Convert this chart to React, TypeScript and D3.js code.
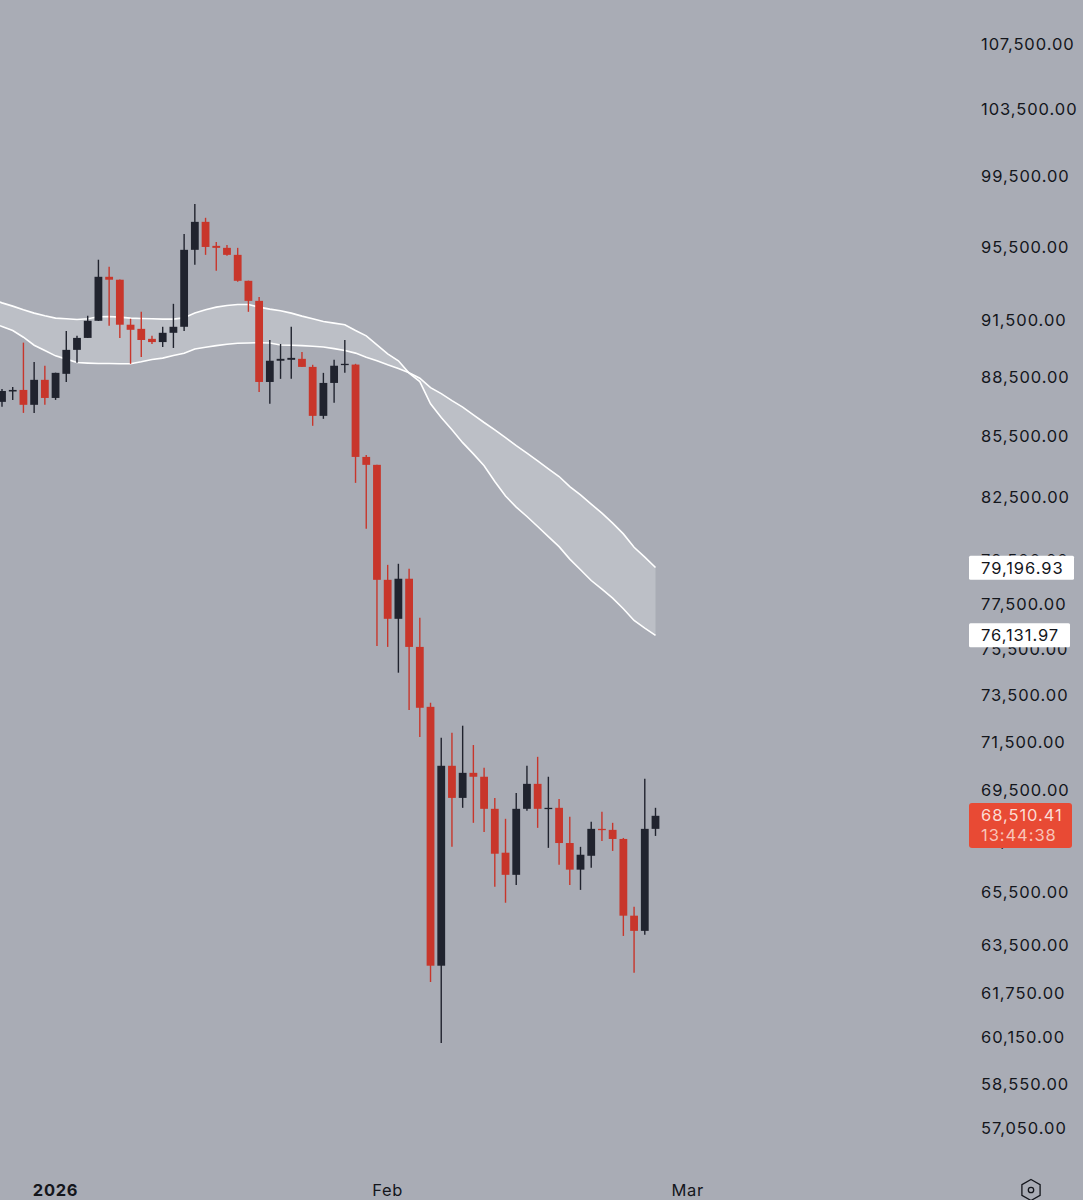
import React from "react";
import * as d3 from "d3";

const startDate = "2025-12-27";
const opens = [87160,87690,87770,87010,88290,87360,88600,89850,90480,91390,93770,93610,91180,90960,90430,90260,90750,91070,95260,96830,95480,95370,94980,93550,92460,88180,89280,89330,89380,88960,86450,88130,89070,89080,84400,84010,78550,76780,78600,75530,72930,62690,70460,69150,70170,70010,68710,66970,66110,68710,69720,68710,68750,67350,66310,66850,67910,67870,67510,64550,63980,67910];
const highs = [87820,87920,90230,89220,89020,88660,90850,90590,91660,94710,94320,93620,91500,91870,90590,91070,92300,96150,97850,97060,95700,95530,95370,93560,92670,90370,90160,91070,89740,89070,88650,89330,90370,89120,84500,84020,79240,79290,79060,76830,73100,71620,71830,72130,71320,70380,69150,68310,69350,70460,70830,70010,69110,68390,67200,68190,68590,68150,67550,64890,69930,68750];
const lows = [86907,87260,86600,86600,87010,87260,88180,89170,90470,91380,91120,90480,89120,89480,90160,90000,89950,90850,94430,94980,94100,94930,93500,91870,87670,87060,88340,88340,88960,85950,86300,87110,88650,83130,80930,75570,75530,74400,72800,71660,62100,59920,67200,68750,68150,67790,65650,65040,65720,68630,67950,67160,66500,65720,65530,66380,67430,67040,63790,62430,63830,67630];
const closes = [87716,87770,87010,88290,87360,88650,89850,90480,91390,93770,93610,91180,90910,90370,90260,90750,91070,95260,96830,95420,95370,94980,93550,92460,88180,89280,89380,89430,88960,86450,88130,89020,89120,84400,84010,78550,76780,78600,75530,72890,62690,70460,69150,70170,70010,68710,66930,66110,68710,69720,68710,68750,67350,66310,66890,67910,67870,67510,64550,63980,67910,68430];
// Band values start one day before the first visible candle (Dec 26).
const bandA = [92560,92352,92176,91977,91801,91657,91534,91496,91459,91496,91603,91619,91587,91534,91512,91496,91480,91480,91550,91801,91977,92122,92208,92261,92261,92122,92015,91924,91801,91640,91496,91351,91266,91175,90870,90587,90108,89640,89276,88636,88200,87058,86367,85748,85106,84552,83964,83195,82497,81959,81511,81036,80560,80089,79507,79013,78519,78120,77711,77231,76706,76364,76040];
const bandB = [91300,91084,90870,90517,90092,89812,89536,89364,89188,89156,89136,89136,89120,89120,89224,89344,89416,89552,89676,89900,89988,90072,90144,90196,90212,90228,90212,90108,90092,90072,90040,90004,89916,89812,89680,89468,89276,89068,88876,88652,88376,87888,87579,87225,86892,86503,86114,85748,85359,84959,84586,84209,83817,83440,82949,82545,82102,81674,81198,80688,80061,79599,79120];
const priceTicks = [107500,103500,99500,95500,91500,88500,85500,82500,79500,77500,75500,73500,71500,69500,67500,65500,63500,61750,60150,58550,57050];
const timeTicks = [
  { date: "2026-01-01", label: "2026", bold: true },
  { date: "2026-02-01", label: "Feb", bold: false },
  { date: "2026-03-01", label: "Mar", bold: false },
];
const tags = [
  { value: 79196.93, width: 105 },
  { value: 76131.97, width: 101 },
];
const lastPrice = 68510.41;
const countdown = "13:44:38";

const BG = "#a9acb5";
const RED = "#c8362b";
const BLACK = "#20232e";
const FONT = "Inter, 'Noto Sans', sans-serif";
const TEXT = "#14161c";

const fmt = (v: number) => d3.format(",.2f")(v);

export default function App() {
  const start = new Date(startDate + "T00:00:00Z");
  const dates = closes.map((_, i) => d3.utcDay.offset(start, i));
  const bandDates = bandA.map((_, i) => d3.utcDay.offset(start, i - 1));
  const x = d3.scaleUtc().domain([start, dates[61]]).range([2, 655.5]);
  const y = d3.scaleLog().domain([107500, 57050]).range([43, 1127]);
  const area = d3.area<number>().x((_, i) => x(bandDates[i])).y0((d) => y(d)).y1((_, i) => y(bandB[i]));
  const line = d3.line<number>().x((_, i) => x(bandDates[i])).y((d) => y(d));
  const labelX = 981;
  const labelSpacing = 0.95;
  return (
    <svg width={1083} height={1200} style={{ position: "absolute", left: 0, top: 0, background: BG, fontFamily: FONT }}>
      <rect width={1083} height={1200} fill={BG} />
      <path d={area(bandA) ?? ""} fill="#bcbfc6" />
      <path d={line(bandA) ?? ""} fill="none" stroke="#fff" strokeWidth={1.6} />
      <path d={line(bandB) ?? ""} fill="none" stroke="#fff" strokeWidth={1.6} />
      {dates.map((d, i) => {
        const up = closes[i] >= opens[i];
        const c = up ? BLACK : RED;
        const cx = x(d);
        const top = y(Math.max(opens[i], closes[i]));
        const bot = y(Math.min(opens[i], closes[i]));
        return (
          <g key={i}>
            <line x1={cx} x2={cx} y1={y(highs[i])} y2={y(lows[i])} stroke={c} strokeWidth={1.4} />
            <rect x={cx - 3.9} width={7.8} y={top} height={Math.max(bot - top, 1.3)} fill={c} />
          </g>
        );
      })}
      {priceTicks.map((t) => (
        <text key={t} x={labelX} y={y(t) + 1} dominantBaseline="central" fontSize={16.5} letterSpacing={labelSpacing} fill={TEXT}>
          {fmt(t)}
        </text>
      ))}
      {tags.map((t) => (
        <g key={t.value}>
          <rect x={969} y={y(t.value) - 10} width={t.width} height={24} fill="#fff" rx={1.5} />
          <text x={labelX} y={y(t.value) + 2} dominantBaseline="central" fontSize={16.5} letterSpacing={labelSpacing} fill={TEXT}>
            {fmt(t.value)}
          </text>
        </g>
      ))}
      <rect x={969} y={803} width={103} height={45} rx={3} fill="#e84a34" />
      <text x={labelX} y={815} dominantBaseline="central" fontSize={16.5} letterSpacing={labelSpacing} fill="#fbdcd5">
        {fmt(lastPrice)}
      </text>
      <text x={labelX} y={835} dominantBaseline="central" fontSize={16.5} letterSpacing={labelSpacing} fill="#f8c4b8">
        {countdown}
      </text>
      {timeTicks.map((t) => (
        <text
          key={t.label}
          x={x(new Date(t.date + "T00:00:00Z"))}
          y={1190}
          textAnchor="middle"
          dominantBaseline="central"
          fontSize={16.5}
          letterSpacing={0.7}
          fontWeight={t.bold ? 700 : 400}
          fill={TEXT}
        >
          {t.label}
        </text>
      ))}
      <g transform="translate(1031,1190)" fill="none" stroke={TEXT} strokeWidth={1.3}>
        <path d={(d3.lineRadial<number>().angle((a) => a).radius(10.5).curve(d3.curveLinearClosed))(d3.range(6).map((k) => (k * Math.PI) / 3)) ?? ""} />
        <circle r={2.7} />
      </g>
    </svg>
  );
}
